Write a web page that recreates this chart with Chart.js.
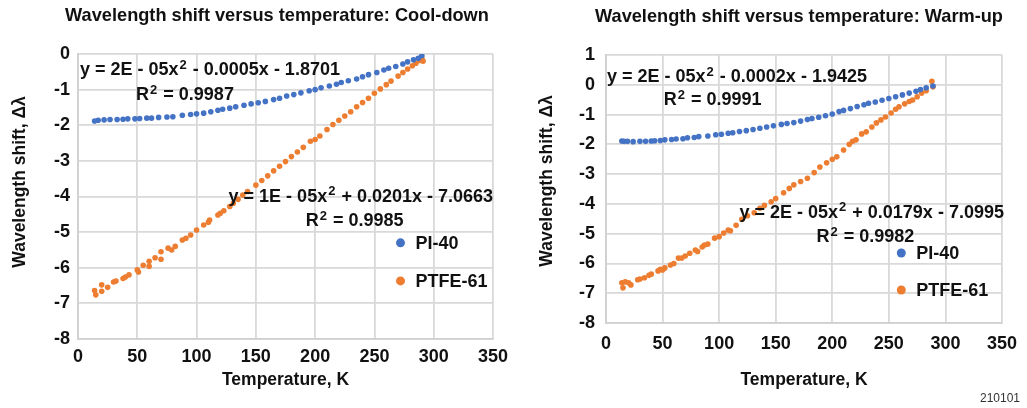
<!DOCTYPE html>
<html>
<head>
<meta charset="utf-8">
<script src="https://cdn.jsdelivr.net/npm/chart.js@4.4.1/dist/chart.umd.min.js"></script>
<style>
  html, body { margin: 0; padding: 0; background: #fff; }
  #wrap { position: relative; width: 1027px; height: 408px; }
  .box { position: absolute; top: 0; height: 408px; }
</style>
</head>
<body>
<div id="wrap">
  <div class="box" style="left:0;width:515px"><canvas id="coolChart"></canvas></div>
  <div class="box" style="left:515px;width:512px"><canvas id="warmChart"></canvas></div>
</div>
<script>
// 数据 - 降温过程 (Cool-down)
const coolPiTemp = [14, 17, 22, 27, 33, 38, 42, 48, 52, 58, 62, 68, 75, 80, 88, 95, 100, 106, 112, 118, 122, 128, 133, 140, 146, 152, 158, 165, 170, 176, 182, 188, 195, 200, 205, 212, 218, 222, 228, 235, 240, 245, 252, 258, 262, 268, 274, 278, 283, 287, 290];
const coolPiShift = [-1.88, -1.86, -1.85, -1.84, -1.84, -1.83, -1.82, -1.82, -1.81, -1.80, -1.80, -1.78, -1.77, -1.76, -1.72, -1.70, -1.68, -1.66, -1.62, -1.58, -1.55, -1.52, -1.48, -1.44, -1.40, -1.37, -1.33, -1.28, -1.24, -1.18, -1.14, -1.09, -1.03, -1.00, -0.95, -0.90, -0.85, -0.80, -0.75, -0.70, -0.64, -0.58, -0.52, -0.45, -0.40, -0.35, -0.28, -0.22, -0.16, -0.12, -0.05];
const coolPtfeTemp = [14, 15, 20, 20, 25, 30, 32, 38, 40, 43, 50, 51, 55, 60, 60, 65, 70, 70, 76, 79, 82, 88, 91, 95, 100, 106, 110, 111, 118, 120, 123, 128, 131, 135, 139, 143, 150, 155, 160, 165, 170, 175, 180, 185, 190, 196, 200, 204, 210, 215, 220, 225, 230, 235, 240, 245, 250, 255, 260, 264, 270, 274, 278, 282, 285, 288, 290, 291];
const coolPtfeShift = [-6.64, -6.76, -6.48, -6.66, -6.55, -6.40, -6.37, -6.30, -6.26, -6.20, -6.06, -6.12, -5.93, -5.82, -5.96, -5.72, -5.55, -5.76, -5.45, -5.50, -5.40, -5.22, -5.17, -5.08, -4.94, -4.80, -4.72, -4.66, -4.52, -4.47, -4.40, -4.28, -4.19, -4.08, -3.96, -3.86, -3.68, -3.55, -3.42, -3.28, -3.15, -3.02, -2.88, -2.75, -2.62, -2.45, -2.40, -2.30, -2.12, -1.98, -1.86, -1.74, -1.62, -1.48, -1.36, -1.24, -1.10, -0.98, -0.86, -0.76, -0.62, -0.52, -0.42, -0.33, -0.26, -0.18, -0.12, -0.20];

// 数据 - 升温过程 (Warm-up)
const warmPiTemp = [14, 16, 19, 24, 30, 35, 40, 43, 48, 52, 58, 62, 68, 72, 78, 82, 90, 97, 102, 108, 112, 118, 124, 130, 136, 142, 148, 155, 160, 166, 172, 178, 182, 188, 194, 200, 206, 210, 216, 222, 228, 232, 238, 244, 250, 256, 262, 268, 274, 278, 283, 289];
const warmPiShift = [-1.89, -1.90, -1.90, -1.91, -1.90, -1.90, -1.89, -1.88, -1.87, -1.85, -1.84, -1.82, -1.81, -1.78, -1.77, -1.74, -1.72, -1.68, -1.66, -1.63, -1.61, -1.57, -1.54, -1.50, -1.46, -1.42, -1.38, -1.33, -1.30, -1.27, -1.22, -1.17, -1.13, -1.09, -1.04, -0.98, -0.90, -0.86, -0.80, -0.73, -0.67, -0.62, -0.58, -0.52, -0.46, -0.40, -0.34, -0.28, -0.22, -0.16, -0.10, -0.04];
const warmPtfeTemp = [14, 15, 17, 20, 22, 28, 30, 34, 38, 40, 46, 48, 50, 52, 57, 60, 64, 67, 70, 74, 79, 81, 85, 87, 90, 96, 100, 104, 108, 110, 115, 120, 125, 131, 136, 140, 146, 150, 157, 162, 166, 172, 178, 184, 189, 195, 200, 204, 210, 215, 218, 221, 226, 230, 235, 239, 243, 247, 252, 256, 259, 264, 268, 271, 275, 279, 283, 288, 289];
const warmPtfeShift = [-6.65, -6.82, -6.62, -6.65, -6.72, -6.55, -6.52, -6.48, -6.40, -6.36, -6.25, -6.20, -6.22, -6.15, -6.05, -6.00, -5.82, -5.82, -5.75, -5.66, -5.55, -5.60, -5.45, -5.38, -5.35, -5.15, -5.10, -4.98, -4.88, -4.90, -4.72, -4.52, -4.40, -4.30, -4.15, -4.05, -3.93, -3.82, -3.63, -3.48, -3.36, -3.25, -3.14, -2.95, -2.76, -2.62, -2.50, -2.42, -2.19, -2.00, -1.90, -1.85, -1.65, -1.58, -1.42, -1.28, -1.18, -1.08, -0.95, -0.82, -0.74, -0.64, -0.56, -0.51, -0.40, -0.28, -0.20, 0.12, -0.07];

// 坐标轴刻度
const tempTicks = [0, 50, 100, 150, 200, 250, 300, 350];
const coolShiftTicks = [-8, -7, -6, -5, -4, -3, -2, -1, 0];
const warmShiftTicks = [-8, -7, -6, -5, -4, -3, -2, -1, 0, 1];

const seriesNames = ['PI-40', 'PTFE-61'];
const seriesColors = ['#4472C4', '#ED7D31'];

const FONT = '"Liberation Sans", Arial, Helvetica, sans-serif';
const INK = '#111';

function toPoints(xs, ys) {
    return xs.map((x, i) => ({ x: x, y: ys[i] }));
}

// 带上标的文字（x² / R²）
function drawRich(ctx, text, x, y) {
    const parts = text.split('^2');
    let cx = x;
    parts.forEach((p, i) => {
        ctx.font = 'bold 18px ' + FONT;
        ctx.fillText(p, cx, y);
        cx += ctx.measureText(p).width;
        if (i < parts.length - 1) {
            ctx.font = 'bold 13px ' + FONT;
            ctx.fillText('2', cx + 1, y - 5);
            cx += ctx.measureText('2').width + 2;
        }
    });
}

// 标题、纵轴标题、趋势线公式、图例与备注
const fitLabels = {
    id: 'fitLabels',
    afterDatasetsDraw(chart, args, opts) {
        const { ctx, scales: { x, y } } = chart;
        ctx.save();
        ctx.textBaseline = 'middle';
        ctx.fillStyle = INK;

        ctx.textAlign = 'center';
        ctx.font = 'bold 18.2px ' + FONT;
        ctx.fillText(opts.title, opts.titleAt[0], opts.titleAt[1]);

        ctx.save();
        ctx.translate(opts.yTitleAt[0], opts.yTitleAt[1]);
        ctx.rotate(-Math.PI / 2);
        ctx.font = 'bold 17.5px ' + FONT;
        ctx.fillText('Wavelength shift, Δλ', 0, 0);
        ctx.restore();

        ctx.textAlign = 'left';
        opts.labels.forEach(l => {
            drawRich(ctx, l.text, x.getPixelForValue(l.at[0]), y.getPixelForValue(l.at[1]));
        });

        ctx.font = 'bold 18px ' + FONT;
        opts.legend.forEach((item, i) => {
            const px = x.getPixelForValue(item.at[0]);
            const py = y.getPixelForValue(item.at[1]);
            ctx.fillStyle = seriesColors[i];
            ctx.beginPath();
            ctx.arc(px, py, 4.5, 0, Math.PI * 2);
            ctx.fill();
            ctx.fillStyle = INK;
            ctx.fillText(seriesNames[i], px + 15, py + 1);
        });

        if (opts.note) {
            ctx.font = '12px ' + FONT;
            ctx.fillStyle = '#333';
            ctx.textAlign = 'right';
            ctx.fillText(opts.note, chart.width - 7, 399);
        }
        ctx.restore();
    }
};

function makeChart(canvasId, cfg) {
    const ctx = document.getElementById(canvasId).getContext('2d');
    return new Chart(ctx, {
        type: 'scatter',
        data: {
            datasets: cfg.series.map((s, i) => ({
                label: seriesNames[i],
                data: toPoints(s[0], s[1]),
                backgroundColor: seriesColors[i],
                borderWidth: 0,
                pointRadius: 2.8
            }))
        },
        options: {
            responsive: true,
            maintainAspectRatio: false,
            animation: false,
            layout: { padding: { left: 0, right: cfg.padRight, top: cfg.padTop, bottom: 9 } },
            plugins: {
                legend: { display: false },
                tooltip: { enabled: false },
                fitLabels: {
                    title: cfg.title,
                    titleAt: cfg.titleAt,
                    yTitleAt: cfg.yTitleAt,
                    labels: cfg.labels,
                    legend: cfg.legend,
                    note: cfg.note
                }
            },
            scales: {
                x: {
                    type: 'linear',
                    min: 0,
                    max: 350,
                    afterFit: s => { s.height = cfg.xHeight; },
                    afterBuildTicks: s => { s.ticks = tempTicks.map(v => ({ value: v })); },
                    grid: { color: '#d9d9d9', lineWidth: 1.8, drawTicks: false },
                    border: { color: '#d0d0d0', width: 1.8 },
                    ticks: { color: INK, padding: cfg.xTickPad, font: { family: FONT, size: 18, weight: 'bold' } },
                    title: {
                        display: true,
                        text: 'Temperature, K',
                        color: INK,
                        font: { family: FONT, size: 17.5, weight: 'bold', lineHeight: 1.2 },
                        padding: { top: 0, bottom: 8.5 }
                    }
                },
                y: {
                    type: 'linear',
                    min: cfg.yTicks[0],
                    max: cfg.yTicks[cfg.yTicks.length - 1],
                    afterFit: s => { s.width = cfg.yWidth; },
                    afterBuildTicks: s => { s.ticks = cfg.yTicks.map(v => ({ value: v })); },
                    grid: { color: '#d9d9d9', lineWidth: 1.8, drawTicks: false },
                    border: { color: '#d0d0d0', width: 1.8 },
                    ticks: { color: INK, padding: cfg.yTickPad, font: { family: FONT, size: 18, weight: 'bold' } }
                }
            }
        },
        plugins: [fitLabels]
    });
}

makeChart('coolChart', {
    title: 'Wavelength shift versus temperature: Cool-down',
    titleAt: [277, 16],
    yTitleAt: [20, 182],
    series: [[coolPiTemp, coolPiShift], [coolPtfeTemp, coolPtfeShift]],
    yTicks: coolShiftTicks,
    padRight: 18,
    padTop: 54,
    xHeight: 60,
    yWidth: 78,
    xTickPad: 7,
    yTickPad: 8,
    labels: [
        { text: 'y = 2E - 05x^2 - 0.0005x - 1.8701', at: [1.7, -0.45] },
        { text: 'R^2 = 0.9987', at: [49, -1.15] },
        { text: 'y = 1E - 05x^2 + 0.0201x - 7.0663', at: [127, -4.01] },
        { text: 'R^2 = 0.9985', at: [192, -4.69] }
    ],
    legend: [{ at: [272, -5.30] }, { at: [272, -6.37] }]
});

makeChart('warmChart', {
    title: 'Wavelength shift versus temperature: Warm-up',
    titleAt: [284, 17],
    yTitleAt: [32, 181],
    series: [[warmPiTemp, warmPiShift], [warmPtfeTemp, warmPtfeShift]],
    yTicks: warmShiftTicks,
    padRight: 19,
    padTop: 55,
    xHeight: 76,
    yWidth: 91,
    xTickPad: 10,
    yTickPad: 11,
    labels: [
        { text: 'y = 2E - 05x^2 - 0.0002x - 1.9425', at: [0.9, 0.26] },
        { text: 'R^2 = 0.9991', at: [51, -0.51] },
        { text: 'y = 2E - 05x^2 + 0.0179x - 7.0995', at: [118, -4.3] },
        { text: 'R^2 = 0.9982', at: [186, -5.11] }
    ],
    legend: [{ at: [261, -5.65] }, { at: [261, -6.89] }],
    note: '210101'
});
</script>
</body>
</html>
